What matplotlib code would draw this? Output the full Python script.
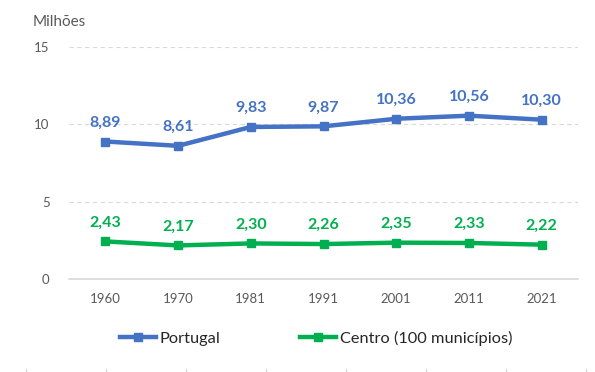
import matplotlib
matplotlib.use('Agg')
import matplotlib.pyplot as plt
from matplotlib.lines import Line2D

# dados (milhões de habitantes)
anos = ['1960', '1970', '1981', '1991', '2001', '2011', '2021']
portugal = [8.89, 8.61, 9.83, 9.87, 10.36, 10.56, 10.30]
centro = [2.43, 2.17, 2.30, 2.26, 2.35, 2.33, 2.22]

azul = '#4472C4'
verde = '#00B050'
cinza = '#595959'

plt.rcParams['font.family'] = ['Lato', 'DejaVu Sans']

fig = plt.figure(figsize=(5.95, 3.72), dpi=100)
ax = fig.add_axes([69/595, 93/372, 509/595, 232/372])

x = list(range(len(anos)))
ax.plot(x, portugal, color=azul, lw=3.2, marker='s', ms=6, label='Portugal',
        solid_joinstyle='round', solid_capstyle='round')
ax.plot(x, centro, color=verde, lw=3.2, marker='s', ms=6, label='Centro (100 municípios)',
        solid_joinstyle='round', solid_capstyle='round')

for xi, v in zip(x, portugal):
    ax.annotate(f'{v:.2f}'.replace('.', ','), (xi, v), xytext=(0, 8.5),
                textcoords='offset points', ha='center', va='bottom',
                color=azul, fontsize=11.5, fontweight='bold')
for xi, v in zip(x, centro):
    ax.annotate(f'{v:.2f}'.replace('.', ','), (xi, v), xytext=(0, 8.5),
                textcoords='offset points', ha='center', va='bottom',
                color=verde, fontsize=11.5, fontweight='bold')

ax.set_xlim(-0.5, len(anos) - 0.5)
ax.set_ylim(0, 15)
ax.set_yticks([0, 5, 10, 15])
ax.set_xticks(x)
ax.set_xticklabels(anos)
ax.tick_params(length=0, labelsize=9.5, colors=cinza, pad=10)
ax.tick_params(axis='y', pad=14)
ax.grid(axis='y', color='#d9d9d9', ls=(0, (4, 3)), lw=0.8)
ax.set_axisbelow(True)
for s in ['top', 'right', 'left']:
    ax.spines[s].set_visible(False)
ax.spines['bottom'].set_color('#d9d9d9')
ax.spines['bottom'].set_linewidth(1.2)
ax.spines['bottom'].set_zorder(0.5)

fig.text(33/595, 1 - 22/372, 'Milhões', fontsize=11, color=cinza, va='center', ha='left')

handles = [Line2D([], [], color=azul, lw=3.2, marker='s', ms=6),
           Line2D([], [], color=verde, lw=3.2, marker='s', ms=6)]
fig.legend(handles, ['Portugal', 'Centro (100 municípios)'], loc='center',
           bbox_to_anchor=(316/595, 1 - 338/372), ncol=2, frameon=False, fontsize=11.8,
           handlelength=2.2, handletextpad=0.2, columnspacing=4.9, labelcolor='#262626')

# pequenas marcas no rodapé
for px in range(26, 595, 80):
    fig.add_artist(Line2D([px/595, px/595], [0, 3/372], color='#d0d0d0', lw=0.8))

fig.savefig('out.png', dpi=100, facecolor='white')
